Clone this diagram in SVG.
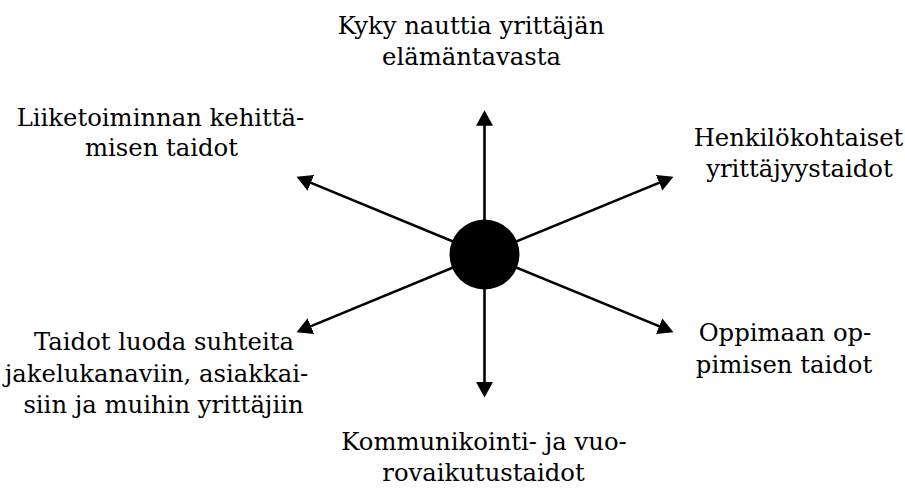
<svg xmlns="http://www.w3.org/2000/svg" width="905" height="488" viewBox="0 0 905 488">
  <style>
    .lbl { font-family: "DejaVu Serif", "Liberation Serif", serif; font-size: 24.3px; fill: #000; text-anchor: middle; }
    .conn { stroke: #000; stroke-width: 2.6; fill: none; marker-end: url(#arrow); }
  </style>
  <defs>
    <marker id="arrow" markerUnits="userSpaceOnUse" markerWidth="16" markerHeight="17" refX="7" refY="8.5" orient="auto">
      <path d="M0,0 L15.5,8.5 L0,17 Z" fill="#000"/>
    </marker>
  </defs>
  <rect width="905" height="488" fill="#fff"/>
  <g id="connectors">
    <line class="conn" x1="484.5" y1="254.5" x2="484.5" y2="118.7"/>
    <line class="conn" x1="484.5" y1="254.5" x2="484.5" y2="389"/>
    <line class="conn" x1="484.5" y1="254.5" x2="304.4" y2="180.1"/>
    <line class="conn" x1="484.5" y1="254.5" x2="665.6" y2="180.1"/>
    <line class="conn" x1="484.5" y1="254.5" x2="304.4" y2="328.9"/>
    <line class="conn" x1="484.5" y1="254.5" x2="665.6" y2="328.9"/>
  </g>
  <g id="center">
    <circle cx="484.5" cy="254.5" r="35" fill="#000"/>
  </g>
  <g id="node-top">
    <text class="lbl" x="471" y="34">Kyky nauttia yrittäjän</text>
    <text class="lbl" x="471.5" y="65">elämäntavasta</text>
  </g>
  <g id="node-upper-left">
    <text class="lbl" x="160.5" y="126">Liiketoiminnan kehittä-</text>
    <text class="lbl" x="161.5" y="156">misen taidot</text>
  </g>
  <g id="node-upper-right">
    <text class="lbl" x="798.5" y="146">Henkilökohtaiset</text>
    <text class="lbl" x="799.5" y="177">yrittäjyystaidot</text>
  </g>
  <g id="node-lower-left">
    <text class="lbl" x="164" y="350">Taidot luoda suhteita</text>
    <text class="lbl" x="156.5" y="382">jakelukanaviin, asiakkai-</text>
    <text class="lbl" x="163.5" y="413">siin ja muihin yrittäjiin</text>
  </g>
  <g id="node-lower-right">
    <text class="lbl" x="785" y="341">Oppimaan op-</text>
    <text class="lbl" x="784" y="373">pimisen taidot</text>
  </g>
  <g id="node-bottom">
    <text class="lbl" x="484" y="450">Kommunikointi- ja vuo-</text>
    <text class="lbl" x="483.5" y="481">rovaikutustaidot</text>
  </g>
</svg>
